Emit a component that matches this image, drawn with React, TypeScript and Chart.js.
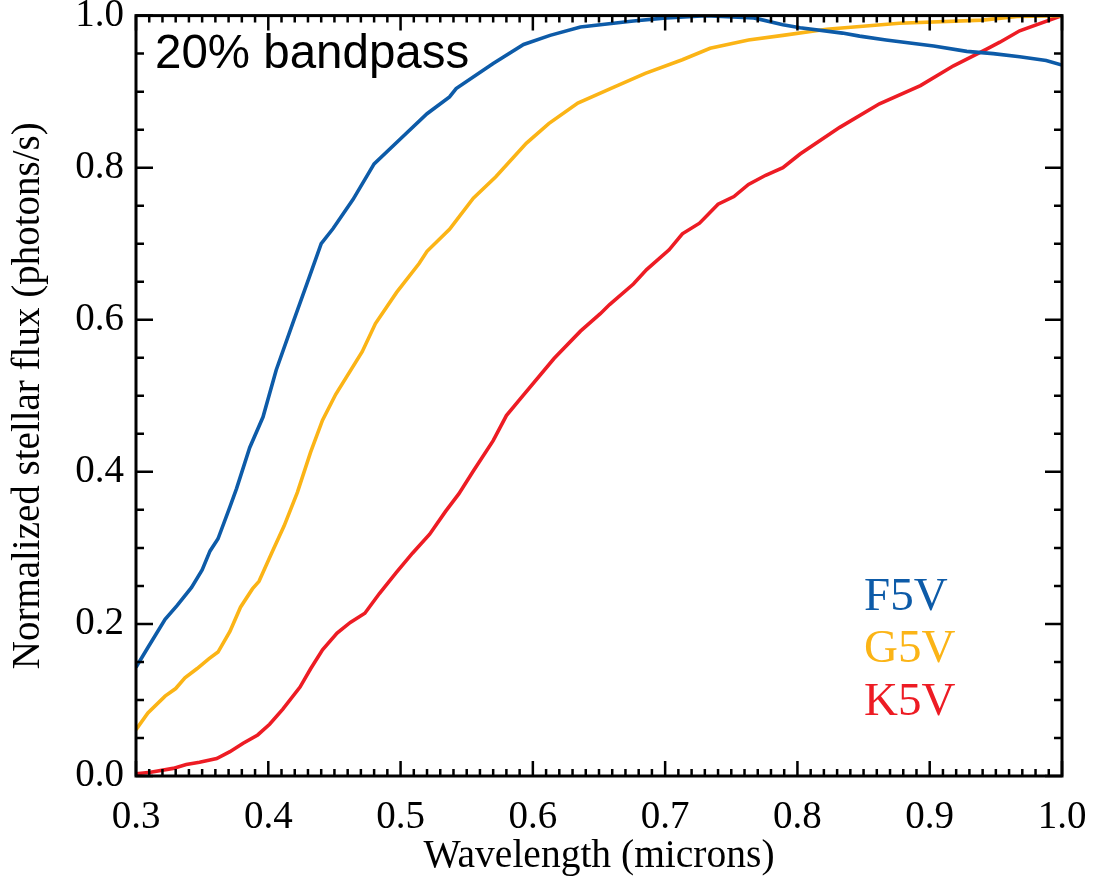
import React, { useEffect, useRef } from "react";
import { Chart, registerables } from "chart.js";

Chart.register(...registerables);

// F5V star
const f5vWave = [0.300, 0.309, 0.322, 0.331, 0.342, 0.350, 0.356, 0.362, 0.371, 0.376, 0.386, 0.396, 0.406, 0.419, 0.431, 0.440, 0.449, 0.464, 0.480, 0.500, 0.520, 0.537, 0.542, 0.570, 0.593, 0.613, 0.636, 0.676, 0.701, 0.731, 0.767, 0.789, 0.802, 0.834, 0.847, 0.867, 0.903, 0.928, 0.948, 0.968, 0.988, 1.000];
const f5vFlux = [0.143, 0.169, 0.206, 0.224, 0.248, 0.271, 0.296, 0.312, 0.354, 0.378, 0.432, 0.472, 0.534, 0.598, 0.656, 0.700, 0.720, 0.758, 0.805, 0.838, 0.871, 0.893, 0.904, 0.937, 0.962, 0.974, 0.985, 0.993, 0.997, 1.000, 0.997, 0.988, 0.984, 0.977, 0.973, 0.968, 0.960, 0.953, 0.950, 0.946, 0.941, 0.935];

// G5V star
const g5vWave = [0.300, 0.309, 0.322, 0.330, 0.337, 0.346, 0.355, 0.362, 0.371, 0.379, 0.388, 0.393, 0.403, 0.412, 0.422, 0.432, 0.441, 0.451, 0.471, 0.481, 0.497, 0.514, 0.520, 0.537, 0.555, 0.572, 0.595, 0.612, 0.634, 0.660, 0.685, 0.713, 0.734, 0.763, 0.789, 0.822, 0.877, 0.940, 0.966, 1.000];
const g5vFlux = [0.061, 0.083, 0.105, 0.115, 0.129, 0.141, 0.154, 0.163, 0.190, 0.222, 0.246, 0.256, 0.295, 0.329, 0.373, 0.426, 0.468, 0.502, 0.558, 0.595, 0.636, 0.674, 0.690, 0.719, 0.760, 0.788, 0.832, 0.858, 0.885, 0.905, 0.924, 0.942, 0.957, 0.968, 0.974, 0.982, 0.990, 0.994, 0.999, 1.000];

// K5V star
const k5vWave = [0.300, 0.311, 0.328, 0.338, 0.348, 0.361, 0.371, 0.381, 0.392, 0.401, 0.411, 0.424, 0.432, 0.441, 0.452, 0.462, 0.473, 0.484, 0.497, 0.509, 0.522, 0.534, 0.544, 0.555, 0.570, 0.580, 0.590, 0.616, 0.636, 0.651, 0.658, 0.676, 0.686, 0.703, 0.713, 0.726, 0.740, 0.752, 0.763, 0.776, 0.789, 0.802, 0.832, 0.862, 0.893, 0.918, 0.943, 0.953, 0.968, 1.000];
const k5vFlux = [0.003, 0.005, 0.010, 0.015, 0.018, 0.023, 0.032, 0.043, 0.054, 0.068, 0.088, 0.117, 0.141, 0.166, 0.188, 0.202, 0.214, 0.240, 0.268, 0.293, 0.318, 0.348, 0.371, 0.401, 0.441, 0.474, 0.495, 0.549, 0.585, 0.608, 0.620, 0.647, 0.666, 0.692, 0.713, 0.727, 0.752, 0.762, 0.778, 0.790, 0.800, 0.818, 0.853, 0.884, 0.908, 0.934, 0.956, 0.965, 0.980, 1.000];

const seriesNames = ["F5V", "G5V", "K5V"];
const seriesColors = ["#0d5ba8", "#fbb416", "#ed1c24"];

const xMin = 0.3;
const xMax = 1.0;
const xMajorStep = 0.1;
const xMinorStep = 0.01;
const yMin = 0.0;
const yMax = 1.0;
const yMajorStep = 0.2;
const yMinorStep = 0.05;

const annotationText = "20% bandpass";
const xTitle = "Wavelength (microns)";
const yTitle = "Normalized stellar flux (photons/s)";

const SERIF = "'Liberation Serif', 'Times New Roman', serif";
const SANS = "'Liberation Sans', Arial, Helvetica, sans-serif";

function toPoints(w: number[], f: number[]) {
  return w.map((x, i) => ({ x, y: f[i] }));
}

const framePlugin = {
  id: "idlFrame",
  afterDatasetsDraw(chart: any) {
    const { ctx, chartArea, scales } = chart;
    const { left, right, top, bottom } = chartArea;
    const xs = scales.x;
    const ys = scales.y;
    ctx.save();
    ctx.strokeStyle = "#000";
    ctx.lineCap = "butt";
    ctx.lineWidth = 2.5;
    const nx = Math.round((xMax - xMin) / xMinorStep);
    for (let i = 0; i <= nx; i++) {
      const v = xMin + i * xMinorStep;
      const px = xs.getPixelForValue(v);
      const major = i % Math.round(xMajorStep / xMinorStep) === 0;
      const len = major ? 15 : 7;
      ctx.beginPath();
      ctx.moveTo(px, bottom);
      ctx.lineTo(px, bottom - len);
      ctx.moveTo(px, top);
      ctx.lineTo(px, top + len);
      ctx.stroke();
    }
    const ny = Math.round((yMax - yMin) / yMinorStep);
    for (let i = 0; i <= ny; i++) {
      const v = yMin + i * yMinorStep;
      const py = ys.getPixelForValue(v);
      const major = i % Math.round(yMajorStep / yMinorStep) === 0;
      const len = major ? 17 : 8;
      ctx.beginPath();
      ctx.moveTo(left, py);
      ctx.lineTo(left + len, py);
      ctx.moveTo(right, py);
      ctx.lineTo(right - len, py);
      ctx.stroke();
    }
    ctx.lineWidth = 3;
    ctx.strokeRect(left, top, right - left, bottom - top);
    ctx.restore();
  },
  afterDraw(chart: any) {
    const { ctx } = chart;
    ctx.save();
    ctx.textAlign = "left";
    ctx.textBaseline = "alphabetic";
    ctx.fillStyle = "#000";
    ctx.font = `47.5px ${SANS}`;
    ctx.fillText(annotationText, 155, 68);
    ctx.font = `47px ${SERIF}`;
    const baselines = [610, 662, 715];
    seriesNames.forEach((n, i) => {
      ctx.fillStyle = seriesColors[i];
      ctx.fillText(n, 864, baselines[i]);
    });
    ctx.restore();
  },
};

export default function App() {
  const ref = useRef<HTMLCanvasElement | null>(null);
  useEffect(() => {
    if (!ref.current) return;
    const waves = [f5vWave, g5vWave, k5vWave];
    const fluxes = [f5vFlux, g5vFlux, k5vFlux];
    const chart = new Chart(ref.current, {
      type: "line",
      data: {
        datasets: seriesNames.map((n, i) => ({
          label: n,
          data: toPoints(waves[i], fluxes[i]),
          borderColor: seriesColors[i],
          backgroundColor: seriesColors[i],
          borderWidth: 3.6,
          pointRadius: 0,
          tension: 0,
          fill: false,
        })),
      },
      options: {
        responsive: false,
        animation: false,
        events: [],
        layout: { padding: { top: 15.6, right: 32, left: 0, bottom: 0 } },
        plugins: { legend: { display: false }, tooltip: { enabled: false }, title: { display: false } },
        scales: {
          x: {
            type: "linear",
            min: xMin,
            max: xMax,
            grid: { display: false, drawTicks: false },
            border: { display: false },
            ticks: {
              stepSize: xMajorStep,
              color: "#000",
              padding: 18,
              font: { family: SERIF, size: 39 },
              maxRotation: 0,
              callback: (v: any) => Number(v).toFixed(1),
            },
            title: {
              display: true,
              text: xTitle,
              color: "#000",
              font: { family: SERIF, size: 39.5 },
              padding: { top: 0, bottom: 0 },
            },
            afterFit: (s: any) => {
              s.height = 104;
              s.paddingLeft = 0;
              s.paddingRight = 0;
            },
          },
          y: {
            type: "linear",
            min: yMin,
            max: yMax,
            grid: { display: false, drawTicks: false },
            border: { display: false },
            ticks: {
              stepSize: yMajorStep,
              color: "#000",
              padding: 12,
              font: { family: SERIF, size: 39 },
              callback: (v: any) => Number(v).toFixed(1),
            },
            title: {
              display: true,
              text: yTitle,
              color: "#000",
              font: { family: SERIF, size: 39 },
              padding: { top: 5, bottom: 0 },
            },
            afterFit: (s: any) => {
              s.width = 136;
              s.paddingTop = 0;
              s.paddingBottom = 0;
            },
          },
        },
      },
      plugins: [framePlugin],
    } as any);
    return () => chart.destroy();
  }, []);
  return (
    <div style={{ position: "absolute", left: 0, top: 0, width: 1094, height: 880, background: "#fff" }}>
      <canvas ref={ref} width={1094} height={880} style={{ display: "block" }} />
    </div>
  );
}
